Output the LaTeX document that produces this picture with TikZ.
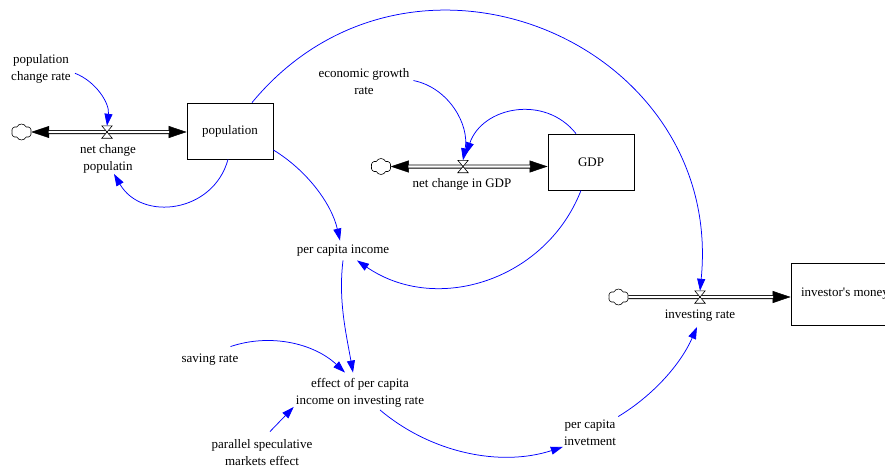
\documentclass[tikz,border=0pt]{standalone}
\usepackage{fontspec}
\setmainfont{Liberation Serif}
\usetikzlibrary{arrows.meta,shapes.symbols}
\begin{document}
\begin{tikzpicture}[x=1pt,y=1pt,
  every node/.style={font=\fontsize{13}{17.5}\selectfont},
  lbl/.style={align=center, inner sep=0pt},
  stock/.style={draw, line width=0.8pt, inner sep=0pt},
  cloudn/.style={cloud, cloud puffs=6, cloud puff arc=130, aspect=1.3, draw, line width=0.6pt,
    minimum width=20pt, minimum height=16pt, inner sep=0pt},
  valven/.style={inner sep=0pt, minimum width=10pt, minimum height=12pt},
  valvedraw/.style={draw, fill=white, line width=0.6pt, line join=miter},
  pipe/.style={draw, line width=0.8pt, double=white, double distance=2.4pt},
  flowtip/.style={line width=0.5pt, -{Triangle[length=18pt,width=12pt]}},
  link/.style={color=blue, line width=0.75pt, -{Triangle[length=12pt,width=8pt]}}
]
\useasboundingbox (0,0) rectangle (885,-466);

% stocks
\node[stock, minimum width=86pt, minimum height=56pt] (pop) at (230,-131) {population};
\node[stock, minimum width=86pt, minimum height=56pt] (gdp) at (591,-162) {GDP};
\node[stock, minimum width=108pt, minimum height=62pt] (inv) at (845,-294) {investor\textquotesingle s money};

% clouds and valves
\node[cloudn] (c1) at (21.5,-132) {};
\node[cloudn] (c2) at (381,-166.5) {};
\node[cloudn] (c3) at (618.5,-297) {};
\node[valven] (v1) at (107,-132) {};
\node[valven] (v2) at (463,-166.5) {};
\node[valven] (v3) at (700,-297) {};

% labels
\node[lbl] (pcr) at (41,-68.25) {population\strut\\change rate\strut};
\node[lbl] (nlab) at (108,-158.25) {net change\strut\\populatin\strut};
\node[lbl] (econ) at (364,-82.25) {economic growth\strut\\rate\strut};
\node[lbl] (gdplab) at (462,-183.5) {net change in GDP\strut};
\node[lbl] (pci) at (343,-249.5) {per capita income\strut};
\node[lbl] (irlab) at (700,-314.5) {investing rate\strut};
\node[lbl] (saving) at (210,-358.5) {saving rate\strut};
\node[lbl] (effect) at (360,-392.25) {effect of per capita\strut\\income on investing rate\strut};
\node[lbl] (par) at (262,-453.25) {parallel speculative\strut\\markets effect\strut};
\node[lbl] (pciv) at (590,-433.25) {per capita\strut\\invetment\strut};

% flows
\draw[flowtip] (v1) -- (c1.east);
\draw[flowtip] (v1) -- (v1 -| pop.west);
\draw[pipe, shorten <=17.5pt, shorten >=17.5pt] (c1.east) -- (v1 -| pop.west);
\draw[flowtip] (v2) -- (c2.east);
\draw[flowtip] (v2) -- (v2 -| gdp.west);
\draw[pipe, shorten <=17.5pt, shorten >=17.5pt] (c2.east) -- (v2 -| gdp.west);
\draw[flowtip] (v3) -- (v3 -| inv.west);
\draw[pipe, shorten >=17.5pt] (c3.east) -- (v3 -| inv.west);
\foreach \v in {v1,v2,v3}
  \draw[valvedraw] (\v.north west) -- (\v.north east) -- (\v.south west) -- (\v.south east) -- cycle;

% information links
\draw[link] ([shift={(4,-5)}]pcr.east) to[out=-21.3,in=82.9,distance=22.6pt] (v1.north);
\draw[link] ([xshift=-2pt]pop.south) to[out=-105.2,in=-59.9,distance=55.4pt] ([shift={(6,2)}]nlab.south);
\draw[link] ([xshift=22pt]pop.north) to[out=50.4,in=84.3,distance=250pt] (v3.north);
\draw[link] ([yshift=-19pt]pop.east) to[out=-31.3,in=103,distance=38.5pt] ([xshift=-3pt]pci.north);
\draw[link] ([shift={(4,-16)}]econ.north east) to[out=-11.5,in=79.5,distance=36.1pt] (v2.north);
\draw[link] ([xshift=-15pt]gdp.north) to[out=128.4,in=71.2,distance=50.3pt] ([shift={(3,6)}]v2.north);
\draw[link] ([xshift=-10pt]gdp.south) to[out=-111.3,in=-34.5,distance=96.4pt] ([shift={(14,-2)}]pci.south);
\draw[link] ([yshift=-2pt]pci.south) to[out=-97,in=100,distance=40pt] ([shift={(-7,2)}]effect.north);
\draw[link] ([shift={(-8,3)}]saving.north east) to[out=18.7,in=136.7,distance=42.3pt] ([shift={(-15,2)}]effect.north);
\draw[link] ([shift={(8,4)}]par.north) -- ([shift={(-2,3)}]effect.south west);
\draw[link] ([xshift=20pt]effect.south) to[out=-40.2,in=-162.1,distance=66.2pt] ([shift={(-1,4)}]pciv.south west);
\draw[link] ([shift={(2,-1)}]pciv.north east) to[out=31.2,in=-113.7,distance=40.9pt] ([shift={(-3,-3.5)}]irlab.south);
\end{tikzpicture}
\end{document}
